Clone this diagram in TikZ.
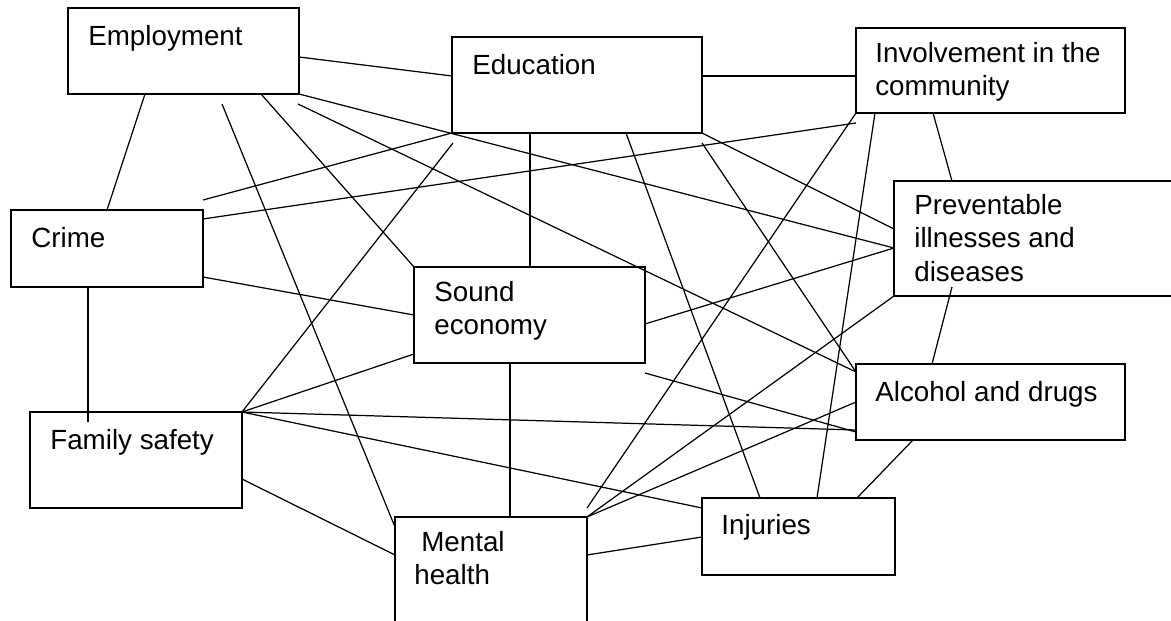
\documentclass[tikz,border=0pt]{standalone}
\usepackage{fontspec}
\setmainfont{Liberation Sans}
\usetikzlibrary{calc}

\begin{document}
\begin{tikzpicture}[
    x=0.02cm,y=-0.02cm,
    box/.style={draw,line width=0.75pt,anchor=north west,inner sep=0pt,outer sep=0pt},
    txt/.style={anchor=north west,inner sep=0pt,align=left,font=\fontsize{15.8pt}{19pt}\selectfont,execute at begin node={\rule{0pt}{13pt}}},
    wire/.style={line width=0.7pt}
]
\useasboundingbox (0,0) rectangle (1171,621);
\clip (0,0) rectangle (1171,621);

% boxes
\node[box,minimum width=4.62cm,minimum height=1.72cm] (employ) at (68,8) {};
\node[box,minimum width=5.00cm,minimum height=1.92cm] (educ) at (452,37) {};
\node[box,minimum width=5.38cm,minimum height=1.70cm] (involve) at (856,28) {};
\node[box,minimum width=3.84cm,minimum height=1.54cm] (crime) at (11,210) {};
\node[box,minimum width=4.62cm,minimum height=1.92cm] (econ) at (414,267) {};
\node[box,minimum width=6.40cm,minimum height=2.30cm] (prevent) at (894,181) {};
\node[box,minimum width=5.38cm,minimum height=1.52cm] (alcohol) at (856,364) {};
\node[box,minimum width=3.86cm,minimum height=1.54cm] (injury) at (702,498) {};
\node[box,minimum width=4.24cm,minimum height=1.92cm] (family) at (30,412) {};
\node[box,minimum width=3.84cm,minimum height=2.60cm] (mental) at (395,517) {};

% texts
\node[txt] (employ-t) at ($(employ.north west)+(20,14)$) {Employment};
\node[txt] (educ-t) at ($(educ.north west)+(20,14)$) {Education};
\node[txt] (involve-t) at ($(involve.north west)+(19,14)$) {Involvement in the\\community};
\node[txt] (crime-t) at ($(crime.north west)+(20,14)$) {Crime};
\node[txt] (econ-t) at ($(econ.north west)+(20,14)$) {Sound\\economy};
\node[txt] (prevent-t) at ($(prevent.north west)+(20,13)$) {Preventable\\illnesses and\\diseases};
\node[txt] (alcohol-t) at ($(alcohol.north west)+(19,14)$) {Alcohol and drugs};
\node[txt] (injury-t) at ($(injury.north west)+(19,13)$) {Injuries};
\node[txt] (family-t) at ($(family.north west)+(20,14)$) {Family safety};
\node[txt] (mental-t) at ($(mental.north west)+(19,14)$) {\hspace*{0.14cm}Mental\\health};

% loose ends
\coordinate (employ-a) at (222,104);
\coordinate (employ-b) at (298,104);
\coordinate (educ-a) at (453,143);
\coordinate (educ-b) at (702,143);
\coordinate (crime-a) at (203,200);
\coordinate (involve-a) at (856,123);
\coordinate (mental-a) at (587,508);
\coordinate (prevent-a) at ($(prevent.south west)+(58,-9)$);
\coordinate (econ-a) at (645,373);
\coordinate (family-a) at ($(family.north west)+(58,10)$);

% links
\draw[wire] ($(employ.north east)+(0,49)$) -- ($(educ.north west)+(0,39)$);
\draw[wire] ($(employ.south west)+(77,0)$) -- ($(crime.north west)+(96,0)$);
\draw[wire] (employ-a) -- ($(mental.north west)+(0,10)$);
\draw[wire] ($(employ.south west)+(193,0)$) -- (econ.north west);
\draw[wire] (employ.south east) -- ($(prevent.north west)+(0,67)$);
\draw[wire] (employ-b) -- ($(alcohol.north west)+(0,8)$);
\draw[wire] ($(educ.north east)+(0,39)$) -- ($(involve.north west)+(0,48)$);
\draw[wire] (educ.south west) -- (crime-a);
\draw[wire] (educ-a) -- (family.north east);
\draw[wire] ($(educ.south west)+(78,0)$) -- ($(econ.north west)+(116,0)$);
\draw[wire] ($(educ.south west)+(174,0)$) -- ($(injury.north west)+(58,0)$);
\draw[wire] (educ.south east) -- ($(prevent.north west)+(0,48)$);
\draw[wire] (educ-b) -- ($(alcohol.north west)+(0,8)$);
\draw[wire] ($(crime.north east)+(0,9)$) -- (involve-a);
\draw[wire] (involve.south west) -- (mental-a);
\draw[wire] ($(involve.south west)+(19,0)$) -- ($(injury.north west)+(115,0)$);
\draw[wire] ($(involve.south west)+(77,0)$) -- ($(prevent.north west)+(58,0)$);
\draw[wire] ($(prevent.north west)+(0,67)$) -- ($(econ.north east)+(0,57)$);
\draw[wire] (prevent.south west) -- (mental.north east);
\draw[wire] (prevent-a) -- ($(alcohol.north west)+(76,0)$);
\draw[wire] ($(alcohol.south west)+(57,0)$) -- ($(injury.north west)+(155,0)$);
\draw[wire] ($(alcohol.north west)+(0,38)$) -- (mental.north east);
\draw[wire] (family.north east) -- ($(alcohol.north west)+(0,66)$);
\draw[wire] (econ-a) -- ($(alcohol.north west)+(0,68)$);
\draw[wire] ($(crime.south west)+(77,0)$) -- (family-a);
\draw[wire] (family.north east) -- ($(econ.north west)+(0,87)$);
\draw[wire] (family.north east) -- ($(injury.north west)+(0,10)$);
\draw[wire] ($(family.north east)+(0,67)$) -- ($(mental.north west)+(0,38)$);
\draw[wire] ($(crime.north east)+(0,67)$) -- ($(econ.north west)+(0,48)$);
\draw[wire] ($(econ.south west)+(96,0)$) -- ($(mental.north west)+(115,0)$);
\draw[wire] ($(mental.north east)+(0,38)$) -- ($(injury.north west)+(0,39)$);
\end{tikzpicture}
\end{document}
